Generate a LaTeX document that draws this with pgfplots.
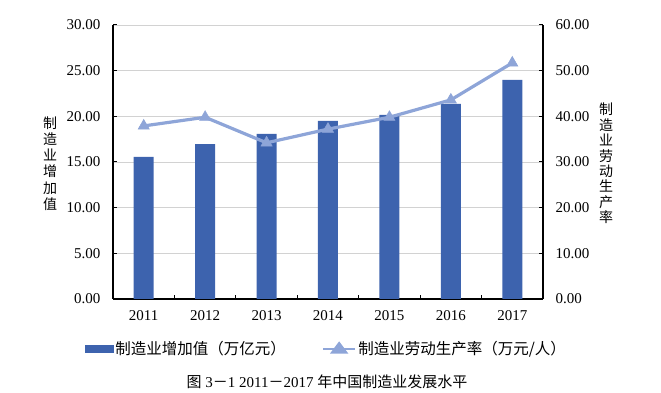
\documentclass[border=0pt]{standalone}
\usepackage{fontspec}
\setmainfont{Liberation Serif}
\newfontfamily\cjk{Noto Sans CJK SC}
\usepackage{pgfplots}
\pgfplotsset{compat=1.18}
\definecolor{barblue}{RGB}{61,99,174}
\definecolor{lineblue}{RGB}{142,165,216}
\definecolor{gridgray}{RGB}{210,210,210}
\begin{document}
\begin{tikzpicture}
\path[use as bounding box] (0,0) rectangle (661bp,393bp);
\begin{axis}[
  at={(113bp,94bp)}, anchor=south west,
  scale only axis, width=430bp, height=274bp,
  xmin=-0.5, xmax=6.5, ymin=0, ymax=30,
  axis x line*=bottom, axis y line*=left,
  xtick={0,...,6},
  xticklabels={2011,2012,2013,2014,2015,2016,2017},
  minor x tick num=1,
  major x tick style={draw=none},
  ytick={0,5,...,30},
  ymajorgrids, grid style={gridgray, line width=0.8bp},
  tick align=inside,
  major tick length=4bp, minor tick length=4bp,
  tick style={black, line width=1bp},
  x axis line style={line width=1.8bp, -},
  y axis line style={line width=1.2bp, -},
  /pgf/number format/.cd, fixed, fixed zerofill, precision=2, assume math mode=true,
  /pgfplots/.cd,
  ticklabel style={font=\fontsize{15bp}{18bp}\selectfont},
  xticklabel style={yshift=-8bp},
  yticklabel style={xshift=-9bp},
]
\addplot[ybar, bar width=20bp, fill=barblue, draw=none] coordinates {
  (0,15.55) (1,16.97) (2,18.07) (3,19.50) (4,20.15) (5,21.36) (6,24.00)};
\end{axis}
\begin{axis}[
  at={(113bp,94bp)}, anchor=south west,
  scale only axis, width=430bp, height=274bp,
  xmin=-0.5, xmax=6.5, ymin=0, ymax=60,
  axis x line=none, axis y line*=right,
  ytick={0,10,...,60},
  tick align=inside,
  major tick length=4bp,
  tick style={black, line width=1bp},
  y axis line style={line width=1.2bp, -},
  /pgf/number format/.cd, fixed, fixed zerofill, precision=2, assume math mode=true,
  /pgfplots/.cd,
  ticklabel style={font=\fontsize{15bp}{18bp}\selectfont},
  yticklabel style={xshift=9bp},
  legend columns=2,
  legend style={at={(rel axis cs:0.4965,-0.1825)}, anchor=center, draw=none, fill=none,
    font=\cjk\fontsize{15.5bp}{18bp}\selectfont,
    /tikz/every even column/.append style={column sep=34bp}},
]
\addlegendimage{legend image code/.code={\fill[barblue] (0bp,-3.5bp) rectangle (28bp,3.5bp);}}
\addlegendentry{制造业增加值（万亿元）}
\addplot[color=lineblue, line width=3.2bp, mark=triangle*, mark size=6.5bp,
  mark options={fill=lineblue, draw=lineblue, line width=0.5bp},
  legend image code/.code={\draw[lineblue, line width=2.5bp] (0bp,0bp)--(32bp,0bp);
    \fill[lineblue] (16bp,5bp)--(10bp,-3bp)--(22bp,-3bp)--cycle;}]
  coordinates {(0,37.9) (1,39.8) (2,34.2) (3,37.2) (4,39.8) (5,43.6) (6,51.7)};
\addlegendentry{制造业劳动生产率（万元/人）}
\end{axis}
\node[align=center, font=\cjk\fontsize{14bp}{16.2bp}\selectfont] at (50bp,229.5bp) {制\\造\\业\\增\\加\\值};
\node[align=center, font=\cjk\fontsize{14bp}{15.4bp}\selectfont] at (606bp,229.5bp) {制\\造\\业\\劳\\动\\生\\产\\率};
\node[font=\fontsize{15bp}{17bp}\selectfont] at (327bp,11bp) {{\cjk 图} 3{\cjk －}1 2011{\cjk －}2017 {\cjk 年中国制造业发展水平}};
\end{tikzpicture}
\end{document}
